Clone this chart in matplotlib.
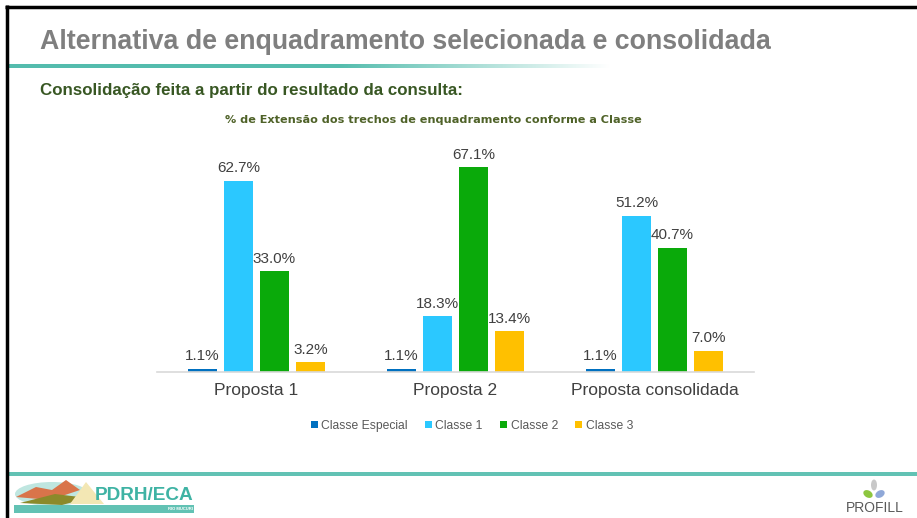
import matplotlib.pyplot as plt
import numpy as np
from matplotlib.patches import Rectangle, Polygon, Ellipse

plt.rcParams['font.family'] = ['Liberation Sans', 'DejaVu Sans']

W, H = 917, 518

propostas = ['Proposta 1', 'Proposta 2', 'Proposta consolidada']
classes = ['Classe Especial', 'Classe 1', 'Classe 2', 'Classe 3']
valores = {
    'Classe Especial': [1.1, 1.1, 1.1],
    'Classe 1': [62.7, 18.3, 51.2],
    'Classe 2': [33.0, 67.1, 40.7],
    'Classe 3': [3.2, 13.4, 7.0],
}
cores = ['#0070C0', '#2BC8FF', '#0AAA0A', '#FFC000']

fig = plt.figure(figsize=(W / 100, H / 100), dpi=100)

# background layer in pixel coordinates for the slide decoration
bg = fig.add_axes([0, 0, 1, 1])
bg.set_xlim(0, W)
bg.set_ylim(H, 0)
bg.axis('off')

# black frame (top and left)
bg.plot([5, W], [6.5, 6.5], color='black', lw=2.5, solid_capstyle='butt')
bg.plot([6.5, 6.5], [5, H], color='black', lw=2.5, solid_capstyle='butt')

# teal line under the title, fading out to the right
grad = np.linspace(0, 1, 300)
teal = np.array([0.33, 0.74, 0.68])
rgb = np.ones((1, 300, 3))
fade = np.clip((grad - 0.55) / 0.45, 0, 1)[:, None]
rgb[0] = teal * (1 - fade) + np.ones(3) * fade
bg.imshow(rgb, extent=[8, 610, 68, 64], aspect='auto', interpolation='bilinear')

# teal footer line
bg.add_patch(Rectangle((8, 472), W - 8, 4, color='#62C2B4', lw=0))

bg.text(40, 42, 'Alternativa de enquadramento selecionada e consolidada',
        fontsize=19.3, fontweight='bold', color='#7F7F7F', va='center')
bg.text(40, 91, 'Consolidação feita a partir do resultado da consulta:',
        fontsize=12.2, fontweight='bold', color='#385723', va='center')
bg.text(433, 120, '% de Extensão dos trechos de enquadramento conforme a Classe',
        fontsize=8.15, fontweight='bold', color='#4F6228', ha='center', va='center',
        family='DejaVu Sans')

# PDRH/ECA logo (simplified)
bg.add_patch(Ellipse((52, 494), 74, 24, color='#BFE6E0', lw=0))
bg.add_patch(Polygon([[16, 497], [36, 487], [52, 490], [66, 480], [80, 490], [50, 500]],
                     color='#D9744A', lw=0))
bg.add_patch(Polygon([[20, 503], [55, 494], [88, 498], [62, 505]], color='#8B8A2A', lw=0))
bg.add_patch(Polygon([[70, 504], [86, 482], [104, 504]], color='#F3E7B4', lw=0))
bg.add_patch(Rectangle((14, 505), 180, 8, color='#62C2B4', lw=0))
bg.text(95, 496, 'PDRH/ECA', fontsize=13.7, fontweight='bold', color='#3FB3A4',
        va='center', ha='left')
bg.text(180, 509.5, 'RIO MUCURI', fontsize=3, fontweight='bold', color='white',
        va='center', ha='center')

# PROFILL logo (simplified)
bg.add_patch(Ellipse((874, 485), 6, 11, color='#C8C8C8', lw=0))
bg.add_patch(Ellipse((868, 494), 10, 7, angle=30, color='#8DC63F', lw=0))
bg.add_patch(Ellipse((880, 494), 10, 7, angle=-30, color='#8FA8D8', lw=0))
bg.text(875, 508, 'PROFILL', fontsize=10, color='#5A5A5A', ha='center', va='center')

# bar chart
ax = fig.add_axes([157 / W, 1 - 372 / H, (754 - 157) / W, 213.5 / H])
x = np.arange(len(propostas))
larg = 0.141
passo = 0.181
barras = []
for i, cl in enumerate(classes):
    pos = x + (i - 1.5) * passo
    b = ax.bar(pos, valores[cl], width=larg, color=cores[i], label=cl, zorder=2)
    barras.append(b)
    for xi, v in zip(pos, valores[cl]):
        ax.annotate(f'{v:.1f}%', (xi, v), xytext=(0, 4), textcoords='offset points',
                    ha='center', va='bottom', fontsize=11, color='#404040',
                    annotation_clip=False)

ax.set_xlim(-0.5, 2.5)
ax.set_ylim(0, 70)
ax.set_xticks(x)
ax.set_xticklabels(propostas, fontsize=12.5, color='#404040')
ax.tick_params(axis='x', length=0, pad=8)
ax.set_yticks([])
for s in ['top', 'right', 'left']:
    ax.spines[s].set_visible(False)
ax.spines['bottom'].set_color('#D9D9D9')
ax.spines['bottom'].set_linewidth(1.2)
ax.patch.set_alpha(0)

leg = fig.legend(handles=barras, labels=classes, loc='center',
                 bbox_to_anchor=(472 / W, 1 - 426 / H), ncol=4, frameon=False,
                 fontsize=8.7, handlelength=0.55, handleheight=0.55,
                 handletextpad=0.3, columnspacing=1.45)
for t in leg.get_texts():
    t.set_color('#595959')

fig.savefig('out.png', dpi=100)
